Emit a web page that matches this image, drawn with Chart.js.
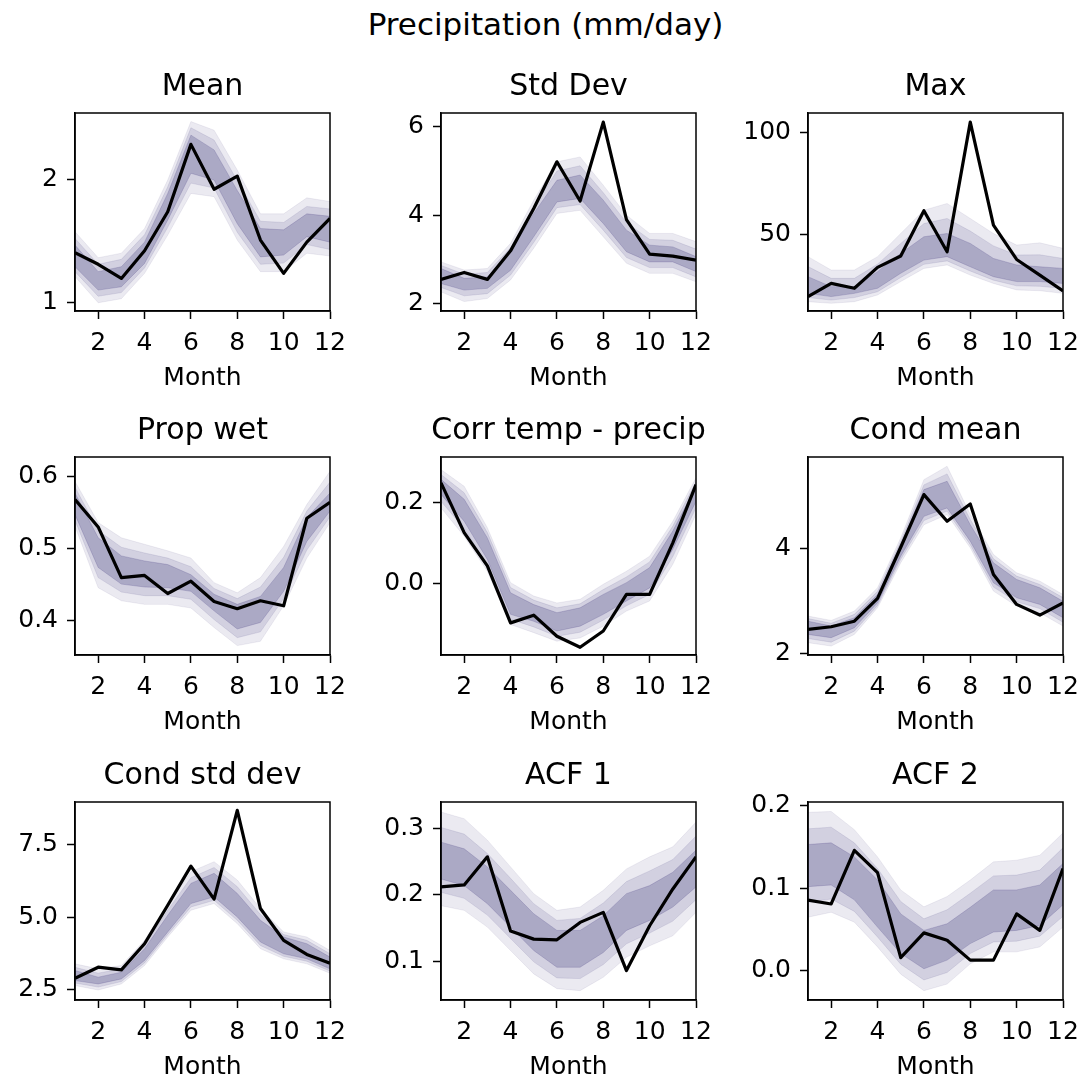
<!DOCTYPE html>
<html><head><meta charset="utf-8">
<script src="https://cdn.jsdelivr.net/npm/chart.js@4.4.1/dist/chart.umd.min.js"></script>
<style>
html,body{margin:0;padding:0;background:#fff;}
body{width:1091px;height:1077px;overflow:hidden;position:relative;font-family:'DejaVu Sans',sans-serif;}
#suptitle{position:absolute;left:0;top:6px;width:1091px;text-align:center;font-size:31px;line-height:36px;color:#000;font-family:'DejaVu Sans',sans-serif;}
canvas.panel{position:absolute;}
</style></head>
<body>
<div id="suptitle">Precipitation (mm/day)</div>
<script>
const months = [1,2,3,4,5,6,7,8,9,10,11,12];
const xTicks = [2,4,6,8,10,12];
const xTickLabels = ['2','4','6','8','10','12'];
const panelTitles = ['Mean','Std Dev','Max','Prop wet','Corr temp - precip','Cond mean','Cond std dev','ACF 1','ACF 2'];
const xTitle = 'Month';
const yMin = [0.93, 1.826, 12.1, 0.353, -0.176, 1.975, 2.154, 0.043, -0.0353];
const yMax = [2.54, 6.317, 109.7, 0.6267, 0.311, 5.752, 8.978, 0.339, 0.2045];
const yTickValues = [[1,2],[2,4,6],[50,100],[0.4,0.5,0.6],[0.0,0.2],[2,4],[2.5,5.0,7.5],[0.1,0.2,0.3],[0.0,0.1,0.2]];
const yTickLabels = [['1','2'],['2','4','6'],['50','100'],['0.4','0.5','0.6'],['0.0','0.2'],['2','4'],['2.5','5.0','7.5'],['0.1','0.2','0.3'],['0.0','0.1','0.2']];

// Mean
const meanObs     = [1.404,1.31,1.195,1.42,1.737,2.285,1.92,2.027,1.507,1.236,1.49,1.683];
const meanOuterHi = [1.575,1.363,1.40,1.60,1.995,2.47,2.40,2.076,1.72,1.72,1.85,1.82];
const meanMidHi   = [1.52,1.31,1.35,1.55,1.94,2.42,2.32,1.99,1.66,1.65,1.78,1.76];
const meanInnerHi = [1.466,1.25,1.29,1.49,1.886,2.36,2.24,1.91,1.60,1.59,1.72,1.70];
const meanInnerLo = [1.29,1.10,1.127,1.317,1.67,2.05,1.995,1.64,1.37,1.385,1.534,1.49];
const meanMidLo   = [1.25,1.05,1.08,1.28,1.61,1.97,1.93,1.57,1.31,1.32,1.47,1.43];
const meanOuterLo = [1.21,0.997,1.03,1.236,1.547,1.886,1.86,1.507,1.25,1.25,1.40,1.377];
// Std Dev
const sdObs     = [2.543,2.70,2.543,3.19,4.15,5.21,4.32,6.11,3.90,3.117,3.07,2.98];
const sdOuterHi = [2.94,2.755,2.79,3.36,4.34,5.21,5.32,4.68,4.0,3.585,3.585,3.40];
const sdMidHi   = [2.86,2.66,2.70,3.26,4.19,5.0,5.12,4.51,3.83,3.45,3.43,3.23];
const sdInnerHi = [2.79,2.566,2.60,3.17,4.04,4.79,4.91,4.34,3.66,3.32,3.28,3.06];
const sdInnerLo = [2.45,2.30,2.34,2.75,3.51,4.30,4.38,3.81,3.17,2.94,2.94,2.72];
const sdMidLo   = [2.36,2.17,2.22,2.64,3.38,4.17,4.24,3.66,3.04,2.81,2.81,2.60];
const sdOuterLo = [2.26,2.04,2.11,2.53,3.25,4.04,4.11,3.51,2.91,2.68,2.68,2.49];
// Max
const maxObs     = [19.2,25.7,23.3,33.6,39.2,61.5,41.3,105.2,54.4,37.5,29.8,22.0];
const maxOuterHi = [38.9,32.3,32.3,38.9,50.3,61.8,65.1,57.7,50.3,44.6,45.7,43.0];
const maxMidHi   = [34.0,28.2,28.2,35.2,45.4,55.2,57.7,51.5,44.2,39.7,39.8,38.0];
const maxInnerHi = [29.0,24.1,24.1,31.5,40.5,48.7,50.3,45.4,38.0,34.8,33.9,33.1];
const maxInnerLo = [20.8,19.2,20.8,23.3,30.7,37.2,38.9,33.9,29.0,26.6,26.6,25.7];
const maxMidLo   = [18.7,17.5,18.7,21.6,28.6,35.1,36.8,31.8,27.3,24.5,24.3,23.2];
const maxOuterLo = [16.7,15.9,16.7,20.0,26.6,33.1,34.8,29.8,25.7,22.5,22.1,20.8];
// Prop wet
const pwObs     = [0.568,0.53,0.46,0.463,0.438,0.455,0.427,0.417,0.428,0.421,0.542,0.564];
const pwOuterHi = [0.593,0.536,0.515,0.506,0.497,0.487,0.453,0.439,0.46,0.503,0.561,0.607];
const pwMidHi   = [0.585,0.525,0.502,0.494,0.487,0.475,0.445,0.431,0.447,0.488,0.552,0.592];
const pwInnerHi = [0.577,0.515,0.49,0.483,0.478,0.464,0.437,0.423,0.434,0.474,0.543,0.577];
const pwInnerLo = [0.547,0.474,0.451,0.447,0.446,0.441,0.414,0.389,0.398,0.441,0.51,0.552];
const pwMidLo   = [0.539,0.46,0.44,0.435,0.435,0.43,0.402,0.377,0.385,0.431,0.498,0.544];
const pwOuterLo = [0.531,0.446,0.428,0.423,0.423,0.418,0.391,0.366,0.372,0.421,0.487,0.536];
// Corr temp - precip
const ctObs     = [0.2475,0.125,0.043,-0.097,-0.078,-0.13,-0.157,-0.117,-0.027,-0.027,0.10,0.243];
const ctOuterHi = [0.28,0.239,0.137,0.002,-0.031,-0.048,-0.039,-0.002,0.03,0.067,0.153,0.26];
const ctMidHi   = [0.268,0.223,0.125,-0.01,-0.041,-0.06,-0.05,-0.015,0.016,0.053,0.141,0.25];
const ctInnerHi = [0.256,0.207,0.112,-0.023,-0.052,-0.072,-0.06,-0.027,0.002,0.039,0.129,0.239];
const ctInnerLo = [0.219,0.153,0.059,-0.076,-0.093,-0.117,-0.105,-0.076,-0.043,-0.011,0.084,0.202];
const ctMidLo   = [0.202,0.135,0.045,-0.088,-0.107,-0.13,-0.12,-0.09,-0.055,-0.027,0.066,0.186];
const ctOuterLo = [0.186,0.116,0.03,-0.101,-0.121,-0.142,-0.134,-0.105,-0.068,-0.043,0.047,0.17];
// Cond mean
const cmObs     = [2.464,2.514,2.62,3.054,4.03,5.035,4.527,4.857,3.51,2.94,2.737,2.97];
const cmOuterHi = [2.717,2.635,2.813,3.257,4.21,5.32,5.575,4.654,3.892,3.543,3.384,3.13];
const cmMidHi   = [2.67,2.58,2.75,3.19,4.14,5.22,5.43,4.56,3.81,3.48,3.32,3.07];
const cmInnerHi = [2.62,2.527,2.686,3.13,4.08,5.13,5.289,4.46,3.733,3.416,3.257,3.0];
const cmInnerLo = [2.368,2.305,2.495,2.97,3.86,4.62,4.78,4.146,3.352,3.067,2.94,2.686];
const cmMidLo   = [2.29,2.22,2.43,2.92,3.80,4.54,4.72,4.08,3.27,2.99,2.86,2.60];
const cmOuterLo = [2.21,2.146,2.368,2.876,3.733,4.46,4.654,4.02,3.194,2.908,2.78,2.527];
// Cond std dev
const csObs     = [2.904,3.285,3.193,4.094,5.42,6.77,5.63,8.69,5.306,4.209,3.724,3.424];
const csOuterHi = [3.40,3.227,3.343,4.209,5.42,6.576,6.92,6.29,5.306,4.498,4.325,3.863];
const csMidHi   = [3.28,3.08,3.23,4.06,5.25,6.37,6.72,6.06,5.10,4.41,4.21,3.75];
const csInnerHi = [3.17,2.94,3.112,3.92,5.075,6.172,6.52,5.826,4.902,4.325,4.094,3.632];
const csInnerLo = [2.823,2.708,2.881,3.516,4.498,5.479,5.71,5.017,4.151,3.747,3.574,3.227];
const csMidLo   = [2.74,2.60,2.79,3.43,4.41,5.36,5.59,4.90,4.03,3.66,3.49,3.15];
const csOuterLo = [2.65,2.5,2.708,3.343,4.325,5.248,5.479,4.786,3.92,3.574,3.40,3.077];
// ACF 1
const a1Obs     = [0.212,0.215,0.257,0.146,0.134,0.133,0.159,0.174,0.087,0.154,0.209,0.257];
const a1OuterHi = [0.324,0.314,0.282,0.242,0.202,0.177,0.182,0.207,0.239,0.257,0.272,0.309];
const a1MidHi   = [0.301,0.291,0.262,0.225,0.187,0.162,0.165,0.188,0.22,0.236,0.253,0.288];
const a1InnerHi = [0.279,0.269,0.242,0.207,0.172,0.147,0.147,0.169,0.202,0.214,0.234,0.267];
const a1InnerLo = [0.224,0.214,0.187,0.152,0.117,0.092,0.092,0.114,0.147,0.162,0.182,0.212];
const a1MidLo   = [0.204,0.195,0.17,0.135,0.1,0.076,0.075,0.096,0.127,0.143,0.161,0.193];
const a1OuterLo = [0.184,0.177,0.152,0.117,0.082,0.06,0.057,0.077,0.107,0.124,0.139,0.174];
// ACF 2
const a2Obs     = [0.0856,0.081,0.146,0.119,0.016,0.046,0.037,0.013,0.013,0.069,0.049,0.124];
const a2OuterHi = [0.192,0.193,0.171,0.138,0.098,0.0775,0.09,0.11,0.132,0.134,0.14,0.167];
const a2MidHi   = [0.172,0.174,0.155,0.124,0.084,0.063,0.074,0.094,0.115,0.116,0.122,0.149];
const a2InnerHi = [0.153,0.155,0.138,0.11,0.069,0.049,0.057,0.077,0.098,0.098,0.104,0.13];
const a2InnerLo = [0.102,0.104,0.086,0.053,0.021,0.0025,0.013,0.033,0.047,0.049,0.055,0.08];
const a2MidLo   = [0.083,0.087,0.072,0.041,0.008,-0.011,-0.002,0.021,0.035,0.036,0.042,0.066];
const a2OuterLo = [0.065,0.071,0.059,0.029,-0.004,-0.024,-0.016,0.0085,0.023,0.023,0.029,0.053];

const observed = [meanObs, sdObs, maxObs, pwObs, ctObs, cmObs, csObs, a1Obs, a2Obs];
const bands = [
  [[meanOuterHi,meanOuterLo],[meanMidHi,meanMidLo],[meanInnerHi,meanInnerLo]],
  [[sdOuterHi,sdOuterLo],[sdMidHi,sdMidLo],[sdInnerHi,sdInnerLo]],
  [[maxOuterHi,maxOuterLo],[maxMidHi,maxMidLo],[maxInnerHi,maxInnerLo]],
  [[pwOuterHi,pwOuterLo],[pwMidHi,pwMidLo],[pwInnerHi,pwInnerLo]],
  [[ctOuterHi,ctOuterLo],[ctMidHi,ctMidLo],[ctInnerHi,ctInnerLo]],
  [[cmOuterHi,cmOuterLo],[cmMidHi,cmMidLo],[cmInnerHi,cmInnerLo]],
  [[csOuterHi,csOuterLo],[csMidHi,csMidLo],[csInnerHi,csInnerLo]],
  [[a1OuterHi,a1OuterLo],[a1MidHi,a1MidLo],[a1InnerHi,a1InnerLo]],
  [[a2OuterHi,a2OuterLo],[a2MidHi,a2MidLo],[a2InnerHi,a2InnerLo]]
];

// ---- styling / layout ----
const FONT = "'DejaVu Sans', sans-serif";
const bandAlpha = [0.10, 0.14, 0.25];
const base = '60,52,120';
const plotW = 255, padL = 85, padR = 85, padT = 60, padB = 85;
const colLeft = [75, 441, 808];
const rowTop = [113, 457, 802];
const plotH = 198;

const frame = {
  id: 'frame',
  afterDatasetsDraw(chart) {
    const a = chart.chartArea, c = chart.ctx;
    c.save(); c.strokeStyle = '#000'; c.lineWidth = 1.5;
    c.strokeRect(a.left, a.top, a.right - a.left, a.bottom - a.top);
    c.restore();
  }
};

const pts = arr => arr.map((v, i) => ({x: months[i], y: v}));

for (let k = 0; k < 9; k++) {
  const col = k % 3, row = Math.floor(k / 3);
  const cv = document.createElement('canvas');
  cv.className = 'panel';
  const W = padL + plotW + padR, H = padT + plotH + padB;
  cv.width = W; cv.height = H;
  cv.style.width = W + 'px'; cv.style.height = H + 'px';
  cv.style.left = (colLeft[col] - padL) + 'px';
  cv.style.top = (rowTop[row] - padT) + 'px';
  document.body.appendChild(cv);

  const datasets = [{
    data: pts(observed[k]), borderColor: '#000', borderWidth: 3.2, fill: false,
    pointRadius: 0, tension: 0, order: 0, borderJoinStyle: 'round', borderCapStyle: 'butt'
  }];
  bands[k].forEach((pair, j) => {
    datasets.push({data: pts(pair[0]), borderColor: `rgba(${base},${bandAlpha[j] * 0.8})`, borderWidth: 1,
      backgroundColor: `rgba(${base},${bandAlpha[j]})`, fill: '+1', pointRadius: 0, tension: 0, order: j + 1});
    datasets.push({data: pts(pair[1]), borderColor: `rgba(${base},${bandAlpha[j] * 0.8})`, borderWidth: 1,
      fill: false, pointRadius: 0, tension: 0, order: j + 1});
  });

  const tv = yTickValues[k], tl = yTickLabels[k];
  new Chart(cv, {
    type: 'line',
    data: {datasets},
    plugins: [frame],
    options: {
      responsive: false, animation: false, devicePixelRatio: 1,
      layout: {padding: 0},
      plugins: {
        legend: {display: false}, tooltip: {enabled: false},
        title: {display: true, text: panelTitles[k], color: '#000',
          font: {family: FONT, size: 30, weight: 'normal', lineHeight: 1.2},
          padding: {top: 16, bottom: 8}}
      },
      scales: {
        x: {
          type: 'linear', position: 'bottom', min: 1, max: 12,
          afterBuildTicks: s => { s.ticks = xTicks.map(v => ({value: v})); },
          afterFit: s => { s.height = padB; },
          ticks: {color: '#000', font: {family: FONT, size: 25}, padding: 9, maxRotation: 0, autoSkip: false,
            callback: (v, i) => xTickLabels[i]},
          grid: {display: true, drawOnChartArea: false, drawTicks: true, tickLength: 8, tickWidth: 1.5, tickColor: '#000'},
          border: {display: true, color: '#000', width: 1.5},
          title: {display: true, text: xTitle, color: '#000', font: {family: FONT, size: 25, lineHeight: 1.2},
            padding: {top: 0, bottom: 3}}
        },
        y: {
          type: 'linear', position: 'left', min: yMin[k], max: yMax[k],
          afterBuildTicks: s => { s.ticks = tv.map(v => ({value: v})); },
          afterFit: s => { s.width = padL; },
          ticks: {color: '#000', font: {family: FONT, size: 25}, padding: 9, autoSkip: false,
            callback: (v, i) => tl[i]},
          grid: {display: true, drawOnChartArea: false, drawTicks: true, tickLength: 8, tickWidth: 1.5, tickColor: '#000'},
          border: {display: true, color: '#000', width: 1.5}
        },
        yR: {
          type: 'linear', position: 'right', display: true,
          afterFit: s => { s.width = padR; },
          ticks: {display: false}, grid: {display: false}, border: {display: false}
        }
      }
    }
  });
}
</script>
</body></html>
